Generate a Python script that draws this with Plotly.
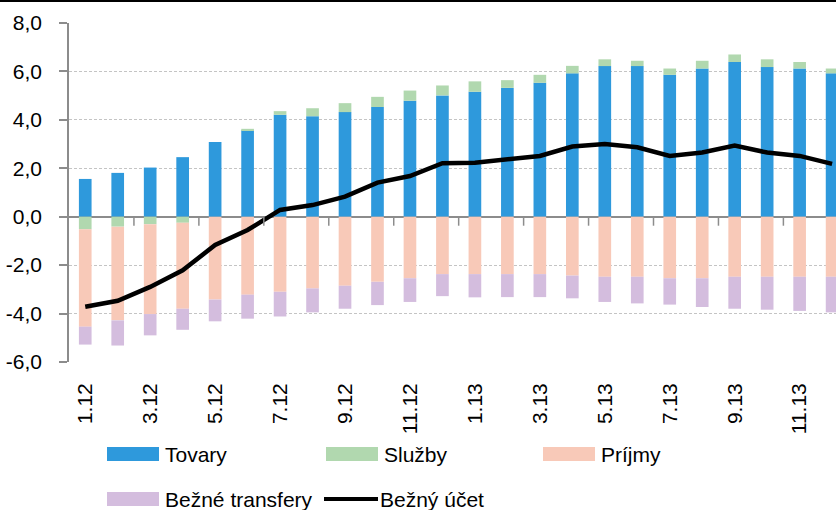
import plotly.graph_objects as go

months = ["1.12", "2.12", "3.12", "4.12", "5.12", "6.12", "7.12", "8.12", "9.12", "10.12", "11.12", "12.12",
          "1.13", "2.13", "3.13", "4.13", "5.13", "6.13", "7.13", "8.13", "9.13", "10.13", "11.13", "12.13"]

tovary = [1.56, 1.81, 2.03, 2.46, 3.09, 3.57, 4.21, 4.15, 4.32, 4.53, 4.79, 5.01,
          5.16, 5.32, 5.53, 5.92, 6.22, 6.22, 5.86, 6.12, 6.39, 6.18, 6.12, 5.92]
sluzby = [-0.52, -0.41, -0.31, -0.25, 0.0, 0.06, 0.15, 0.33, 0.37, 0.42, 0.42, 0.41,
          0.43, 0.32, 0.33, 0.31, 0.28, 0.22, 0.26, 0.32, 0.31, 0.32, 0.27, 0.20]
prijmy = [-4.02, -3.87, -3.71, -3.55, -3.42, -3.22, -3.10, -2.96, -2.85, -2.69, -2.54, -2.37,
          -2.37, -2.37, -2.37, -2.43, -2.48, -2.48, -2.54, -2.54, -2.48, -2.48, -2.48, -2.48]
transfery = [-0.74, -1.04, -0.88, -0.87, -0.90, -0.99, -1.02, -0.99, -0.95, -0.96, -0.98, -0.91,
             -0.96, -0.95, -0.95, -0.94, -1.04, -1.10, -1.09, -1.19, -1.32, -1.36, -1.41, -1.47]
bezny_ucet = [-3.72, -3.47, -2.90, -2.21, -1.17, -0.55, 0.28, 0.48, 0.83, 1.41, 1.68, 2.21,
              2.23, 2.35, 2.51, 2.90, 3.00, 2.87, 2.51, 2.65, 2.94, 2.65, 2.51, 2.18]

y_ticks = [-6, -4, -2, 0, 2, 4, 6, 8]
y_tick_labels = ["-6,0", "-4,0", "-2,0", "0,0", "2,0", "4,0", "6,0", "8,0"]

names = ["Tovary", "Služby", "Príjmy", "Bežné transfery", "Bežný účet"]
colors = ["#2E99DC", "#B1D8AF", "#F8C9B8", "#D4BDDE", "#000000"]

FONT = "Liberation Sans, Arial, sans-serif"
W, H = 836, 510
L, T, B = 69, 23, 148
PW, PH = W - L, H - T - B

fig = go.Figure()
for name, vals, col in zip(names[:4], [tovary, sluzby, prijmy, transfery], colors[:4]):
    fig.add_trace(go.Bar(x=months, y=vals, name=name, marker_color=col,
                         marker_line_width=0, showlegend=False))
fig.add_trace(go.Scatter(x=months, y=bezny_ucet, name=names[4], mode="lines",
                         line=dict(color=colors[4], width=4.5), showlegend=False))


def px_x(p):
    return (p - L) / PW


def px_y(p):
    return (H - B - p) / PH


shapes = []
# small tick marks on the zero axis between every second category
for k in range(1, len(months) - 1, 2):
    shapes.append(dict(type="line", xref="x", yref="y", x0=k + 0.5, x1=k + 0.5,
                       ysizemode="pixel", yanchor=0, y0=0, y1=-9,
                       line=dict(color="#8C8C8C", width=1.5)))
# top border of the chart frame
shapes.append(dict(type="line", xref="paper", yref="paper", x0=px_x(0), x1=px_x(W),
                   y0=px_y(1), y1=px_y(1), line=dict(color="#000000", width=2)))

annotations = []
legend_items = [
    (names[0], colors[0], "rect", 107, 454),
    (names[1], colors[1], "rect", 326, 454),
    (names[2], colors[2], "rect", 543, 454),
    (names[3], colors[3], "rect", 107, 499),
    (names[4], colors[4], "line", 324, 499),
]
for name, col, kind, sx, cy in legend_items:
    if kind == "rect":
        shapes.append(dict(type="rect", xref="paper", yref="paper",
                           x0=px_x(sx), x1=px_x(sx + 52), y0=px_y(cy - 7), y1=px_y(cy + 7),
                           fillcolor=col, line=dict(width=0)))
        tx = sx + 56
    else:
        shapes.append(dict(type="line", xref="paper", yref="paper",
                           x0=px_x(sx), x1=px_x(sx + 54), y0=px_y(cy), y1=px_y(cy),
                           line=dict(color=col, width=4)))
        tx = sx + 54
    annotations.append(dict(text=name, xref="paper", yref="paper", x=px_x(tx), y=px_y(cy),
                            xanchor="left", yanchor="middle", showarrow=False,
                            font=dict(family=FONT, size=21, color="#000000")))

fig.update_layout(
    width=W, height=H,
    margin=dict(l=L, r=0, t=T, b=B, pad=0, autoexpand=False),
    paper_bgcolor="white", plot_bgcolor="white",
    barmode="relative", bargap=0.61,
    showlegend=False,
    font=dict(family=FONT, size=21, color="#000000"),
    shapes=shapes, annotations=annotations,
    xaxis=dict(type="category", range=[-0.5, 23.12], showgrid=False, showline=False,
               zeroline=False, ticks="", tickvals=months[::2], ticktext=months[::2],
               tickangle=-90, tickfont=dict(size=21, family=FONT, color="#000000"),
               ticklabelstandoff=16, automargin=False),
    yaxis=dict(range=[-6, 8], tickvals=y_ticks, ticktext=y_tick_labels,
               showgrid=True, gridcolor="#C4C4C4", gridwidth=1, griddash="3px,2px",
               zeroline=True, zerolinecolor="#8C8C8C", zerolinewidth=1.5,
               showline=True, linecolor="#8C8C8C", linewidth=1.5,
               ticks="outside", ticklen=8, tickcolor="#8C8C8C", tickwidth=1.5,
               tickfont=dict(size=21, family=FONT, color="#000000"),
               ticklabelstandoff=13, automargin=False),
)

fig.write_html("out.html", config={"displayModeBar": False},
               post_script="document.body.style.margin='0';document.body.style.overflow='hidden';")
